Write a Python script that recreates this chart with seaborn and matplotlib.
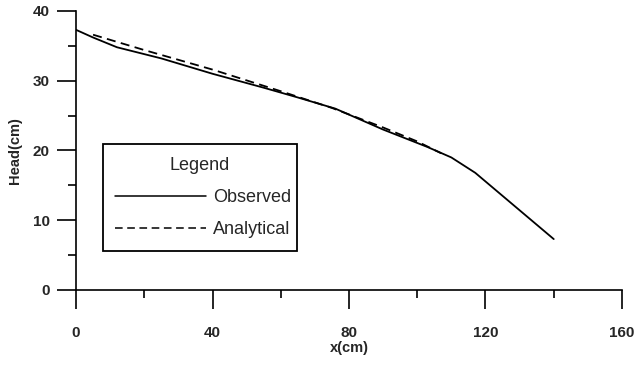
import matplotlib
matplotlib.use('Agg')
import matplotlib.pyplot as plt
import seaborn as sns
import pandas as pd
from matplotlib.ticker import MultipleLocator

# Data
obs_x = [0, 5, 12, 25, 40, 55, 65, 76, 90, 103, 110, 117, 140]
obs_head = [37.3, 36.2, 34.8, 33.2, 31.0, 29.0, 27.6, 26.0, 23.0, 20.5, 19.0, 16.8, 7.3]

ana_x = [5, 20, 40, 60, 75, 90, 100, 107]
ana_head = [36.6, 34.4, 31.6, 28.5, 26.1, 23.3, 21.3, 19.6]

sns.set_style("ticks")
plt.rcParams['font.family'] = ['Liberation Sans', 'DejaVu Sans']

df = pd.concat([
    pd.DataFrame({'x': obs_x, 'head': obs_head, 'series': 'Observed'}),
    pd.DataFrame({'x': ana_x, 'head': ana_head, 'series': 'Analytical'}),
])

fig = plt.figure(figsize=(6.35, 3.65), dpi=100)
ax = fig.add_axes([0.1197, 0.2055, 0.8598, 0.7644])

sns.lineplot(data=df, x='x', y='head', hue='series', style='series',
             palette={'Observed': 'black', 'Analytical': 'black'},
             dashes={'Observed': '', 'Analytical': (5, 3)},
             linewidth=1.3, sort=False, ax=ax, legend=False)

ax.set_xlim(0, 160)
ax.set_ylim(0, 40)
ax.xaxis.set_major_locator(MultipleLocator(40))
ax.xaxis.set_minor_locator(MultipleLocator(20))
ax.yaxis.set_major_locator(MultipleLocator(10))
ax.yaxis.set_minor_locator(MultipleLocator(5))

sns.despine(ax=ax)
for s in ['left', 'bottom']:
    ax.spines[s].set_linewidth(1.2)
    ax.spines[s].set_color('black')

ax.tick_params(which='major', length=14, width=1.2, color='black', direction='out',
               labelsize=11)
ax.tick_params(which='minor', length=6, width=1.2, color='black', direction='out')
ax.tick_params(axis='x', which='major', pad=12)
ax.tick_params(axis='y', which='major', pad=5)
for lab in ax.get_xticklabels() + ax.get_yticklabels():
    lab.set_fontweight('bold')

ax.set_xlabel('x(cm)', fontsize=10.5, fontweight='bold', labelpad=1)
ax.set_ylabel('Head(cm)', fontsize=10.5, fontweight='bold', labelpad=8)

# Legend drawn with proxy lines
h_obs, = ax.plot([], [], color='black', lw=1.1)
h_ana, = ax.plot([], [], color='black', lw=1.1, dashes=(5, 3))
leg = ax.legend([h_obs, h_ana], ['Observed', 'Analytical'], title='Legend',
                loc='lower left', bbox_to_anchor=(0.049, 0.14, 0.356, 0.387),
                mode='expand', fontsize=13, title_fontsize=13,
                frameon=True, fancybox=False, edgecolor='black',
                handlelength=5.0, handletextpad=0.4, borderpad=0.7,
                labelspacing=0.85, borderaxespad=0)
leg.get_frame().set_linewidth(1.3)
leg.get_frame().set_alpha(1)

fig.savefig('out.png', dpi=100)
